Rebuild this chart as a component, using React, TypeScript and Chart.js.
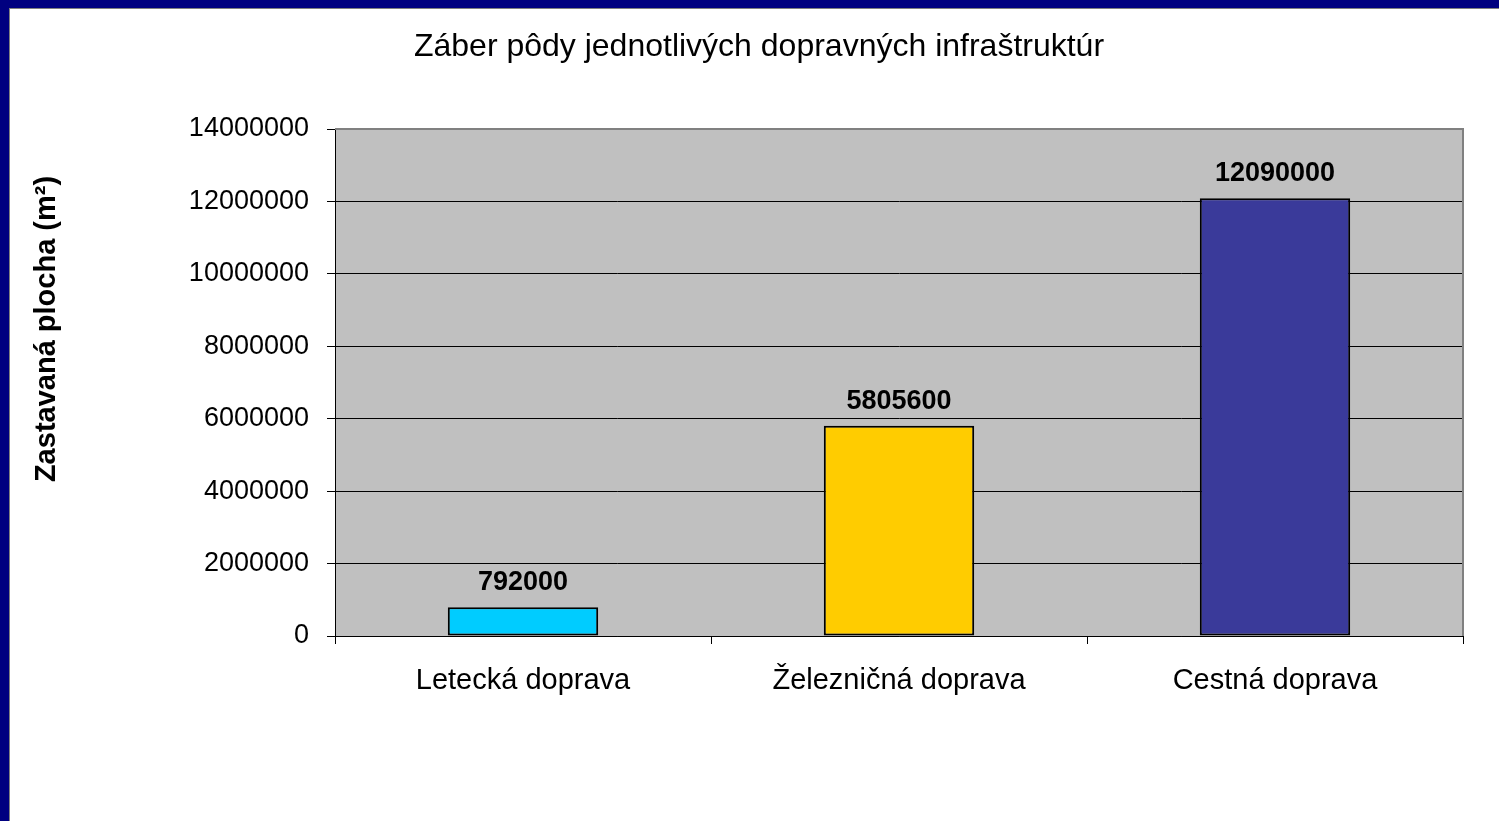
import React, { useEffect, useRef } from "react";
import { Chart, registerables } from "chart.js";

Chart.register(...registerables);

const categories = ["Letecká doprava", "Železničná doprava", "Cestná doprava"];
const values = [792000, 5805600, 12090000];
const barColors = ["#00CCFF", "#FFCC00", "#3A3A9A"];
const yTicks = [0, 2000000, 4000000, 6000000, 8000000, 10000000, 12000000, 14000000];
const chartTitle = "Záber pôdy jednotlivých dopravných infraštruktúr";
const yTitle = "Zastavaná plocha (m²)";

const FONT = "'Liberation Sans', Arial, sans-serif";

const plotBgPlugin = {
  id: "plotBg",
  beforeDraw(chart: any) {
    const { ctx, chartArea } = chart;
    ctx.save();
    ctx.fillStyle = "#C0C0C0";
    ctx.fillRect(chartArea.left, chartArea.top, chartArea.right - chartArea.left, chartArea.bottom - chartArea.top);
    ctx.restore();
  },
  afterDraw(chart: any) {
    const { ctx, chartArea } = chart;
    ctx.save();
    ctx.strokeStyle = "#808080";
    ctx.lineWidth = 2;
    ctx.beginPath();
    ctx.moveTo(chartArea.left, chartArea.top);
    ctx.lineTo(chartArea.right, chartArea.top);
    ctx.lineTo(chartArea.right, chartArea.bottom);
    ctx.stroke();
    ctx.restore();
  },
};

const labelsPlugin = {
  id: "barLabels",
  afterDatasetsDraw(chart: any) {
    const { ctx } = chart;
    const meta = chart.getDatasetMeta(0);
    ctx.save();
    ctx.font = `bold 27px ${FONT}`;
    ctx.fillStyle = "#000";
    ctx.textAlign = "center";
    ctx.textBaseline = "alphabetic";
    meta.data.forEach((bar: any, i: number) => {
      ctx.fillText(String(values[i]), bar.x, bar.y - 17);
    });
    ctx.restore();
  },
};

const textPlugin = {
  id: "texts",
  afterDraw(chart: any) {
    const { ctx } = chart;
    ctx.save();
    ctx.fillStyle = "#000";
    ctx.textAlign = "center";
    ctx.textBaseline = "middle";
    ctx.font = `32px ${FONT}`;
    ctx.fillText(chartTitle, 749, 38);
    ctx.font = `bold 29px ${FONT}`;
    ctx.translate(37, 320);
    ctx.rotate(-Math.PI / 2);
    ctx.fillText(yTitle, 0, 0);
    ctx.restore();
  },
};

export default function App() {
  const ref = useRef<HTMLCanvasElement>(null);

  useEffect(() => {
    if (!ref.current) return;
    const chart = new Chart(ref.current, {
      type: "bar",
      data: {
        labels: categories,
        datasets: [
          {
            data: values,
            backgroundColor: barColors,
            borderColor: "#000",
            borderWidth: 2,
            borderSkipped: false,
            categoryPercentage: 1,
            barPercentage: 0.4,
          },
        ],
      },
      options: {
        animation: false,
        responsive: false,
        maintainAspectRatio: false,
        layout: { padding: { left: 0, right: 36, top: 120, bottom: 0 } },
        plugins: {
          legend: { display: false },
          tooltip: { enabled: false },
          title: { display: false },
        },
        scales: {
          x: {
            offset: true,
            grid: {
              offset: true,
              drawOnChartArea: false,
              drawTicks: true,
              tickLength: 8,
              color: "#000",
              lineWidth: 1,
            },
            border: { display: true, color: "#000", width: 1 },
            ticks: {
              color: "#000",
              padding: 20,
              font: { family: FONT, size: 29 },
              maxRotation: 0,
            },
            afterFit(scale: any) {
              scale.height = 185;
            },
          },
          y: {
            min: 0,
            max: 14000000,
            afterBuildTicks(scale: any) {
              scale.ticks = yTicks.map((v) => ({ value: v }));
            },
            grid: {
              color: (c: any) => (c.tick && c.tick.value === 14000000 ? "#808080" : "#000"),
              tickColor: "#000",
              tickLength: 8,
              lineWidth: 1,
            },
            border: { display: true, color: "#000", width: 1 },
            ticks: {
              color: "#000",
              padding: 18,
              font: { family: FONT, size: 27 },
              callback: (v: any) => String(v),
            },
            afterFit(scale: any) {
              scale.width = 325;
            },
          },
        },
      },
      plugins: [plotBgPlugin, labelsPlugin, textPlugin],
    });
    return () => chart.destroy();
  }, []);

  return (
    <div style={{ position: "fixed", inset: 0, background: "#000080" }}>
      <div style={{ position: "absolute", left: 9, top: 8, right: 0, bottom: 0, background: "#fff", borderLeft: "1px solid #808080", borderTop: "1px solid #808080", boxSizing: "border-box" }}>
        <canvas ref={ref} width={1489} height={812} style={{ display: "block", width: 1489, height: 812 }} />
      </div>
    </div>
  );
}
